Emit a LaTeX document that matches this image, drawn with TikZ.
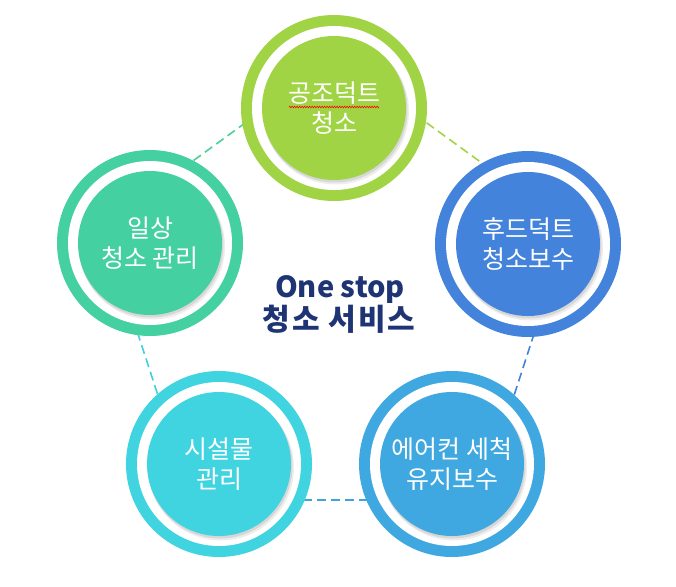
\documentclass[tikz,border=0pt]{standalone}
\usepackage{fontspec}
\setmainfont{Noto Sans CJK KR}
\usetikzlibrary{calc,decorations.pathmorphing}
\definecolor{cgreen}{HTML}{A1D444}
\definecolor{cblue}{HTML}{4383DB}
\definecolor{csky}{HTML}{40A8E0}
\definecolor{ccyan}{HTML}{40D3E0}
\definecolor{cteal}{HTML}{44D0A0}
\definecolor{cnavy}{HTML}{1F3474}
\newcommand{\ringnode}[5]{%
  \node[outerc, fill=#4] (#1) at (#2,#3) {};
  \fill[white] (#1.center) circle (82pt);
  \fill[black, opacity=0.07] ($(#1.center)+(2,3.5)$) circle (73pt);
  \fill[black, opacity=0.09] ($(#1.center)+(1,2)$) circle (72.5pt);
  \node[innerc, fill=#4] (#1in) at (#1.center) {#5};
}
\begin{document}
\begin{tikzpicture}[x=1pt,y=-1pt,
  outerc/.style={circle, minimum size=186pt, inner sep=0pt},
  innerc/.style={circle, minimum size=144pt, inner sep=0pt, text=white, align=center,
    font=\fontsize{25}{30}\selectfont},
  link/.style={dash pattern=on 9pt off 5pt, line width=1.6pt},
  centertext/.style={text=cnavy, anchor=base}]
\useasboundingbox[fill=white] (0,0) rectangle (676,586);
% pentagon of dashed links (behind the circles)
\coordinate (p1) at (336,57);
\coordinate (p2) at (569,226.3);
\coordinate (p3) at (480,500.2);
\coordinate (p4) at (192,500.2);
\coordinate (p5) at (103,226.3);
\draw[link, color=cteal!90!cgreen] (p5) -- (p1);
\draw[link, color=cgreen] (p1) -- (p2);
\draw[link, color=cblue] (p2) -- (p3);
\draw[link, color=csky!85!cblue] (p3) -- (p4);
\draw[link, color=ccyan!90!csky] (p4) -- (p5);
% circles
\ringnode{top}{334}{108}{cgreen}{공조덕트\\청소}
\ringnode{right}{528}{244}{cblue}{후드덕트\\청소보수}
\ringnode{bright}{452}{464}{csky}{에어컨 세척\\유지보수}
\ringnode{bleft}{219}{464}{ccyan}{시설물\\관리}
\ringnode{left}{150}{243}{cteal}{일상\\청소 관리}
\draw[red, line width=0.6pt, decorate, decoration={zigzag, segment length=2.5pt, amplitude=0.8pt}]
  ($(topin.center)+(-45,-1)$) -- ($(topin.center)+(45,-1)$);
% centre text
\node[centertext, font=\bfseries\fontsize{29}{32}\selectfont] (c1) at (340,297) {One stop};
\node[centertext, font=\bfseries\fontsize{30}{32}\selectfont\addfontfeature{LetterSpace=6}] (c2) at (339,330) {청소 서비스};
\end{tikzpicture}
\end{document}
